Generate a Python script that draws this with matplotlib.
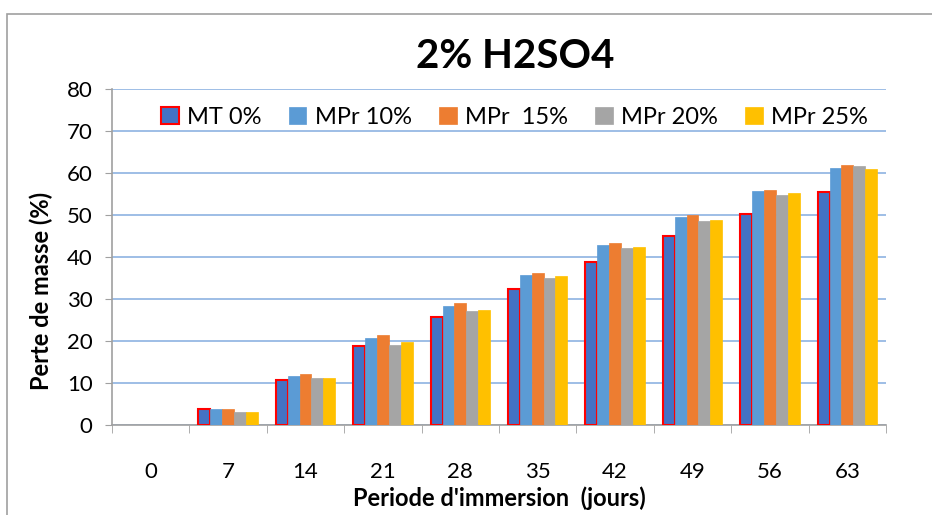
import matplotlib.pyplot as plt
import matplotlib.patches as mpatches
import numpy as np

# data
periods = ['0', '7', '14', '21', '28', '35', '42', '49', '56', '63']
series_names = ['MT 0%', 'MPr 10%', 'MPr  15%', 'MPr 20%', 'MPr 25%']
mt_0 = [0, 3.8, 10.8, 18.9, 25.8, 32.5, 38.8, 44.9, 50.2, 55.5]
mpr_10 = [0, 3.8, 11.6, 20.7, 28.3, 35.6, 42.8, 49.5, 55.6, 61.3]
mpr_15 = [0, 3.9, 12.1, 21.4, 29.0, 36.2, 43.4, 50.1, 56.0, 61.8]
mpr_20 = [0, 3.2, 11.3, 19.1, 27.2, 34.9, 42.2, 48.6, 54.7, 61.7]
mpr_25 = [0, 3.0, 11.1, 19.7, 27.5, 35.4, 42.5, 48.8, 55.2, 61.0]

colors = ['#4472C4', '#5B9BD5', '#ED7D31', '#A5A5A5', '#FFC000']
edges = ['#FF0000', '#5B9BD5', '#ED7D31', '#A5A5A5', '#FFC000']

plt.rcParams['font.family'] = ['Lato', 'DejaVu Sans']

fig = plt.figure(figsize=(9.32, 5.15), dpi=100)
ax = fig.add_axes([112 / 932, 1 - 425 / 515, 774 / 932, 336 / 515])

x = np.arange(len(periods))
w = 0.153
all_series = [mt_0, mpr_10, mpr_15, mpr_20, mpr_25]
handles = []
for i, vals in enumerate(all_series):
    lw = 1.5 if i == 0 else 0.5
    # no outline on empty bars (day 0)
    lws = [lw if v > 0 else 0 for v in vals]
    ax.bar(x + (i - 2) * w, vals, width=w, color=colors[i], edgecolor=edges[i],
           linewidth=lws, zorder=3)
    handles.append(mpatches.Patch(facecolor=colors[i], edgecolor=edges[i],
                                  linewidth=lw, label=series_names[i]))

ax.set_xlim(-0.5, len(periods) - 0.5)
ax.set_ylim(0, 80)
ax.set_yticks(range(0, 81, 10))
ax.yaxis.grid(True, color='#8DB3E2', linewidth=1.2, zorder=0)

ax.set_xticks(x)
ax.set_xticklabels(periods, fontsize=16)
ax.set_xticks(np.arange(-0.5, len(periods), 1), minor=True)
ax.tick_params(axis='x', which='major', length=0, pad=27)
ax.tick_params(axis='x', which='minor', length=6, color='#A0A0A0', direction='out')
ax.tick_params(axis='y', labelsize=16, length=5, color='#A0A0A0', pad=9)

for side in ['top', 'right']:
    ax.spines[side].set_visible(False)
ax.spines['left'].set_color('#A0A0A0')
ax.spines['bottom'].set_color('#A0A0A0')
ax.spines['left'].set_linewidth(1.2)
ax.spines['bottom'].set_linewidth(1.2)

ax.set_ylabel('Perte de masse (%)', fontsize=17, fontweight='bold')
ax.yaxis.set_label_coords(-0.076, 0.40)
ax.set_xlabel("Periode d'immersion  (jours)", fontsize=17, fontweight='bold')
ax.xaxis.set_label_coords(0.5, -0.183)

fig.text(515 / 932, 1 - 56 / 515, '2% H2SO4', fontsize=29, fontweight='bold',
         ha='center', va='center')

ax.legend(handles=handles, loc='upper center', bbox_to_anchor=(0.52, 1.01), ncol=5,
          frameon=False, fontsize=17, handlelength=0.75, handleheight=0.75,
          handletextpad=0.35, columnspacing=1.15)

# outer chart frame
fig.add_artist(mpatches.Rectangle((7 / 932, -0.1), 1.2, 1 - 14 / 515 + 0.1,
                                  transform=fig.transFigure, fill=False,
                                  edgecolor='#A0A0A0', linewidth=1.2))

plt.savefig('out.png', dpi=100)
